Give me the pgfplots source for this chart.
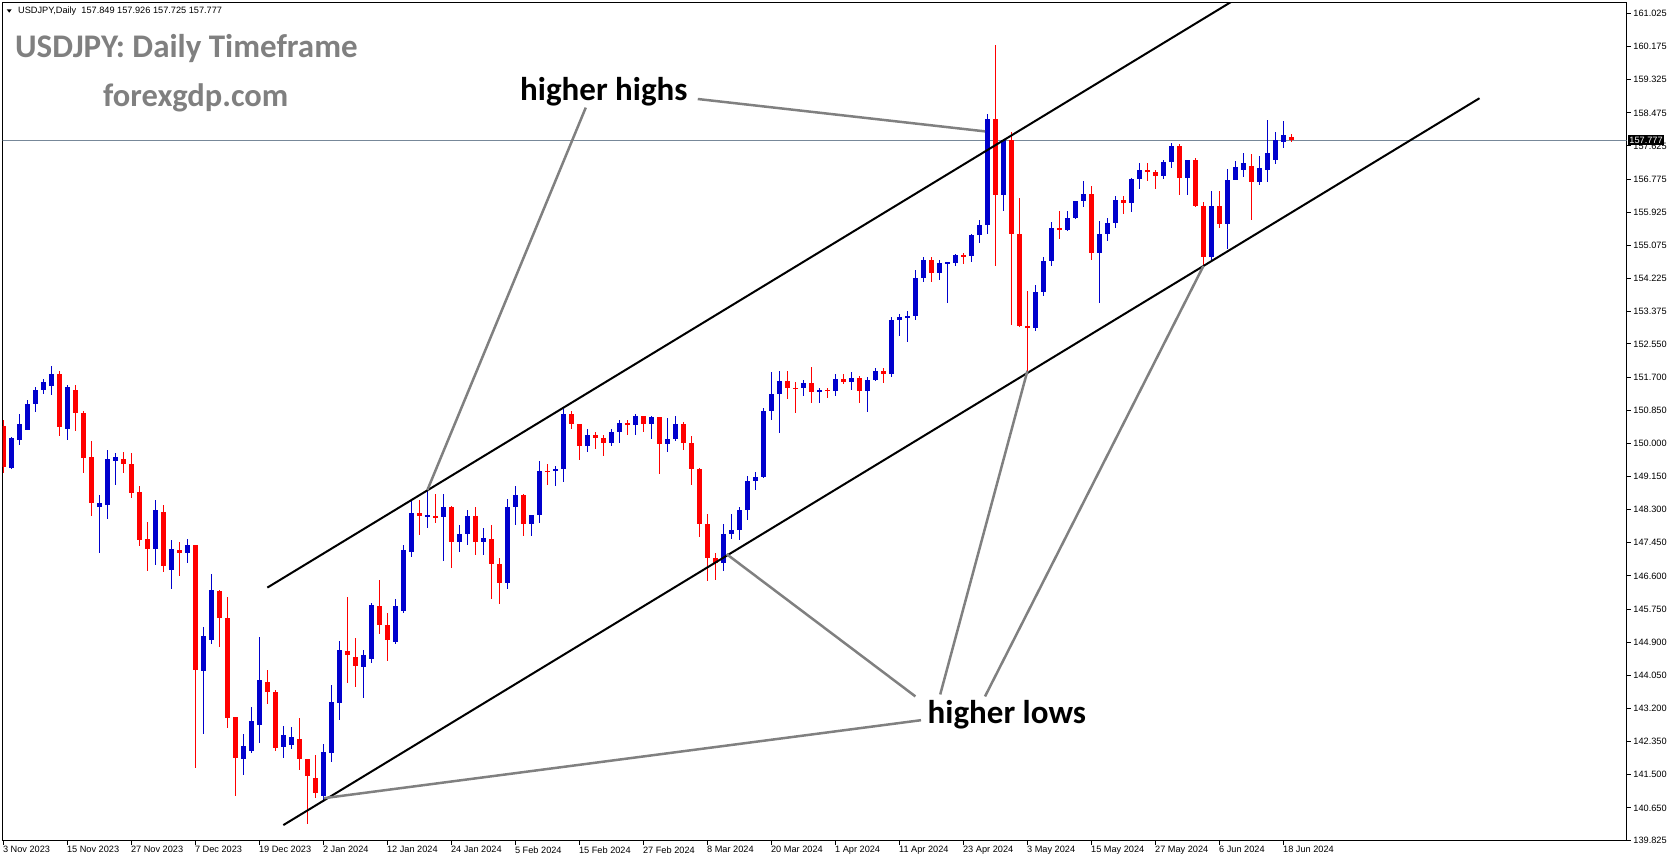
\documentclass[border=0pt]{standalone}
\usepackage{pgfplots}
\pgfplotsset{compat=1.18}
\usepackage{pgfplotstable}
\usepackage{fontspec}
\setmainfont{Liberation Sans}
\newfontfamily\carl{Carlito}
\definecolor{bull}{RGB}{0,0,205}
\definecolor{bear}{RGB}{255,0,0}
\definecolor{wm}{RGB}{128,128,128}
\definecolor{pline}{RGB}{119,136,153}
\definecolor{ann}{RGB}{128,128,128}

\pgfplotstableread{
i O H L C
0 150.44 150.60 149.25 149.40
1 149.38 150.15 149.35 150.13
2 150.08 150.75 149.96 150.49
3 150.34 151.11 150.34 151.02
4 151.01 151.45 150.81 151.38
5 151.37 151.66 151.26 151.58
6 151.48 151.98 151.24 151.78
7 151.78 151.85 150.19 150.43
8 150.38 151.49 150.08 151.44
9 151.37 151.49 150.32 150.79
10 150.79 150.83 149.25 149.63
11 149.66 150.06 148.14 148.46
12 148.38 148.67 147.20 148.48
13 148.43 149.83 148.06 149.60
14 149.55 149.74 148.93 149.65
15 149.60 149.78 149.23 149.47
16 149.47 149.74 148.60 148.72
17 148.74 148.91 147.37 147.52
18 147.54 147.98 146.73 147.29
19 147.29 148.56 146.88 148.29
20 148.25 148.42 146.70 146.85
21 146.75 147.52 146.26 147.29
22 147.26 147.48 146.60 147.20
23 147.20 147.56 146.94 147.39
24 147.39 147.39 141.68 144.19
25 144.17 145.30 142.55 145.06
26 144.96 146.64 144.85 146.24
27 146.21 146.24 144.79 145.53
28 145.51 146.07 142.71 142.96
29 142.97 142.97 140.95 141.94
30 141.91 142.55 141.49 142.24
31 142.11 143.25 142.07 142.88
32 142.78 145.04 142.32 143.93
33 143.89 144.19 143.32 143.63
34 143.63 143.67 142.12 142.20
35 142.20 142.75 141.94 142.52
36 142.26 142.73 142.16 142.48
37 142.41 142.95 141.62 141.91
38 141.91 141.91 140.25 141.48
39 141.41 142.00 140.90 141.03
40 140.95 142.28 140.80 142.09
41 142.05 143.80 141.84 143.38
42 143.35 144.93 142.91 144.70
43 144.67 146.07 143.86 144.57
44 144.53 145.00 143.74 144.29
45 144.27 144.70 143.48 144.57
46 144.47 145.90 144.38 145.85
47 145.83 146.50 145.11 145.34
48 145.34 145.64 144.42 144.96
49 144.91 146.00 144.85 145.83
50 145.70 147.39 145.66 147.26
51 147.22 148.55 147.09 148.22
52 148.22 148.55 147.65 148.14
53 148.14 148.80 147.82 148.14
54 148.13 148.70 147.97 148.10
55 148.12 148.70 146.97 148.36
56 148.36 148.39 146.80 147.47
57 147.47 147.91 147.22 147.67
58 147.67 148.28 147.39 148.13
59 148.13 148.36 147.15 147.46
60 147.46 147.83 147.14 147.56
61 147.56 147.90 146.00 146.90
62 146.90 147.05 145.89 146.42
63 146.42 148.58 146.26 148.38
64 148.38 148.90 147.90 148.68
65 148.68 148.70 147.62 147.93
66 147.93 148.17 147.63 148.16
67 148.16 149.55 147.95 149.30
68 149.30 149.48 148.94 149.28
69 149.28 149.41 148.90 149.34
70 149.34 150.88 149.00 150.76
71 150.76 150.82 150.36 150.50
72 150.50 150.50 149.57 149.93
73 149.93 150.38 149.78 150.22
74 150.22 150.28 149.85 150.14
75 150.14 150.21 149.68 150.00
76 150.00 150.38 149.92 150.29
77 150.29 150.59 150.00 150.52
78 150.52 150.61 150.22 150.48
79 150.48 150.76 150.22 150.70
80 150.70 150.71 150.28 150.49
81 150.49 150.69 150.12 150.68
82 150.68 150.68 149.21 149.98
83 149.98 150.66 149.79 150.10
84 150.10 150.69 150.07 150.50
85 150.50 150.55 149.84 150.00
86 150.00 150.19 148.94 149.35
87 149.35 149.37 147.59 147.92
88 147.92 148.20 146.48 147.06
89 147.06 147.20 146.49 146.92
90 146.92 147.93 146.72 147.68
91 147.68 148.19 147.55 147.77
92 147.77 148.36 147.51 148.30
93 148.30 149.16 148.03 149.04
94 149.04 149.27 148.80 149.14
95 149.14 150.91 149.11 150.84
96 150.84 151.82 150.60 151.26
97 151.26 151.86 150.26 151.60
98 151.60 151.86 151.13 151.43
99 151.43 151.58 150.79 151.41
100 151.41 151.63 151.22 151.55
101 151.55 151.97 151.03 151.32
102 151.32 151.42 151.03 151.36
103 151.36 151.43 151.17 151.35
104 151.35 151.77 151.22 151.65
105 151.65 151.78 151.53 151.57
106 151.57 151.82 151.37 151.67
107 151.67 151.74 151.03 151.34
108 151.34 151.71 150.81 151.62
109 151.62 151.94 151.60 151.85
110 151.85 151.94 151.55 151.77
111 151.77 153.24 151.71 153.16
112 153.16 153.32 152.76 153.24
113 153.24 153.39 152.59 153.26
114 153.26 154.45 153.15 154.23
115 154.23 154.79 154.14 154.69
116 154.69 154.78 154.13 154.36
117 154.36 154.71 154.19 154.63
118 154.63 154.65 153.59 154.63
119 154.63 154.86 154.54 154.82
120 154.82 154.88 154.59 154.80
121 154.80 155.37 154.66 155.35
122 155.35 155.74 155.13 155.60
123 155.60 158.44 155.37 158.33
124 158.33 160.21 154.54 156.36
125 156.36 157.80 155.95 157.79
126 157.79 157.99 153.04 155.36
127 155.36 156.28 152.99 153.02
128 153.02 153.90 151.86 152.97
129 152.97 154.05 152.87 153.89
130 153.89 154.78 153.77 154.67
131 154.67 155.67 154.55 155.53
132 155.53 155.95 155.23 155.46
133 155.46 155.95 155.45 155.78
134 155.78 156.22 155.75 156.21
135 156.21 156.74 156.07 156.40
136 156.40 156.60 154.69 154.89
137 154.89 155.70 153.60 155.38
138 155.38 155.79 155.20 155.64
139 155.64 156.34 155.53 156.25
140 156.25 156.35 155.87 156.17
141 156.17 156.80 155.93 156.78
142 156.78 157.19 156.52 157.00
143 157.00 157.19 156.74 156.96
144 156.96 157.01 156.51 156.85
145 156.85 157.27 156.79 157.21
146 157.21 157.71 157.07 157.62
147 157.62 157.69 156.38 156.81
148 156.81 157.25 156.38 157.27
149 157.27 157.31 156.05 156.09
150 156.09 156.20 154.55 154.79
151 154.79 156.47 154.71 156.10
152 156.10 156.48 155.52 155.63
153 155.63 157.04 154.99 156.75
154 156.75 157.24 156.75 157.09
155 157.00 157.45 156.84 157.19
156 157.12 157.42 155.72 156.70
157 156.70 157.37 156.63 157.07
158 157.01 158.29 156.70 157.45
159 157.26 157.99 157.16 157.78
160 157.73 158.27 157.58 157.91
161 157.849 157.926 157.725 157.777
}\candles

\begin{document}
\begin{tikzpicture}[x=1pt,y=1pt]
\path[use as bounding box] (0pt,0pt) rectangle (1673pt,861pt);
\begin{axis}[
  at={(2.7pt,20.3pt)}, anchor=south west,
  width=1624pt, height=838pt, scale only axis,
  xmin=-0.075, xmax=202.9, ymin=139.81, ymax=161.30,
  axis line style={line width=1pt, black},
  xtick={0,8,...,160},
  xticklabels={3 Nov 2023,15 Nov 2023,27 Nov 2023,7 Dec 2023,19 Dec 2023,2 Jan 2024,12 Jan 2024,24 Jan 2024,5 Feb 2024,15 Feb 2024,27 Feb 2024,8 Mar 2024,20 Mar 2024,1 Apr 2024,11 Apr 2024,23 Apr 2024,3 May 2024,15 May 2024,27 May 2024,6 Jun 2024,18 Jun 2024},
  ytick={161.025,160.175,159.325,158.475,157.625,156.775,155.925,155.075,154.225,153.375,152.550,151.700,150.850,150.000,149.150,148.300,147.450,146.600,145.750,144.900,144.050,143.200,142.350,141.500,140.650,139.825},
  yticklabels={161.025,160.175,159.325,158.475,157.625,156.775,155.925,155.075,154.225,153.375,152.550,151.700,150.850,150.000,149.150,148.300,147.450,146.600,145.750,144.900,144.050,143.200,142.350,141.500,140.650,139.825},
  xtick pos=bottom, ytick pos=right, yticklabel pos=right,
  tick align=outside, major tick length=4pt,
  tick style={black, line width=1pt},
  tick label style={font=\fontsize{9.2}{10}\selectfont},
  xticklabel style={anchor=north west, inner sep=0pt, xshift=-0.5pt, yshift=-1.5pt},
  yticklabel style={anchor=west, inner sep=0pt, xshift=2.5pt},
  clip=true,
]
% current price line
\addplot[pline, line width=1pt] coordinates {(-1,157.777) (210,157.777)};
% bull wicks and bodies
\addplot[draw=none, mark=none, x filter/.expression={\thisrow{C}>=\thisrow{O} ? x : nan},
  error bars/.cd, y dir=both, y explicit, error mark=none,
  error bar style={draw=bull, line width=1pt}]
  table[x=i, y expr={(\thisrow{H}+\thisrow{L})/2}, y error expr={(\thisrow{H}-\thisrow{L})/2}] {\candles};
\addplot[draw=none, mark=none, x filter/.expression={\thisrow{C}>=\thisrow{O} ? x : nan},
  error bars/.cd, y dir=both, y explicit, error mark=none,
  error bar style={draw=bull, line width=5pt}]
  table[x=i, y expr={(\thisrow{O}+\thisrow{C})/2}, y error expr={max(abs(\thisrow{C}-\thisrow{O})/2,0.0128)}] {\candles};
% bear wicks and bodies
\addplot[draw=none, mark=none, x filter/.expression={\thisrow{C}<\thisrow{O} ? x : nan},
  error bars/.cd, y dir=both, y explicit, error mark=none,
  error bar style={draw=bear, line width=1pt}]
  table[x=i, y expr={(\thisrow{H}+\thisrow{L})/2}, y error expr={(\thisrow{H}-\thisrow{L})/2}] {\candles};
\addplot[draw=none, mark=none, x filter/.expression={\thisrow{C}<\thisrow{O} ? x : nan},
  error bars/.cd, y dir=both, y explicit, error mark=none,
  error bar style={draw=bear, line width=5pt}]
  table[x=i, y expr={(\thisrow{O}+\thisrow{C})/2}, y error expr={max(abs(\thisrow{C}-\thisrow{O})/2,0.0128)}] {\candles};
% channel lines
\draw[black, line width=2pt] (axis cs:35.0,140.21) -- (axis cs:184.5,158.85);
\draw[black, line width=2pt] (axis cs:33.0,146.30) -- (axis cs:184.5,165.19);
% annotation pointers
\draw[ann, line width=2.5pt] (axis cs:72.8,158.61) -- (axis cs:53.0,148.80);
\draw[ann, line width=2.5pt] (axis cs:86.8,158.83) -- (axis cs:122.7,158.0);
\draw[ann, line width=2.5pt] (axis cs:114.7,142.90) -- (axis cs:40.05,140.90);
\draw[ann, line width=2.5pt] (axis cs:114.0,143.51) -- (axis cs:90.4,147.16);
\draw[ann, line width=2.5pt] (axis cs:117.1,143.56) -- (axis cs:128.0,151.86);
\draw[ann, line width=2.5pt] (axis cs:122.7,143.51) -- (axis cs:150.0,154.55);
\coordinate (pl) at (axis cs:202.9,157.777);
\end{axis}
% price label
\node[fill=black, text=white, anchor=west, inner xsep=1.5pt, inner ysep=1.5pt,
  font=\fontsize{9.2}{10}\selectfont, xshift=1pt] at (pl) {157.777};
% header
\fill[black] (6.7,851.7) -- (11.7,851.7) -- (9.2,848.3) -- cycle;
\node[anchor=west, inner sep=0pt, font=\fontsize{9.2}{10}\selectfont] at (18,850) {USDJPY,Daily\ \ 157.849 157.926 157.725 157.777};
\node[anchor=base west, inner sep=0pt, text=wm, font=\carl\bfseries\fontsize{33}{36}\selectfont] at (15,803) {USDJPY: Daily Timeframe};
\node[anchor=base west, inner sep=0pt, text=wm, font=\carl\bfseries\fontsize{32.5}{36}\selectfont] at (103,754) {forexgdp.com};
\node[anchor=west, inner sep=0pt, font=\carl\bfseries\fontsize{33}{36}\selectfont] at (520,769.5) {higher highs};
\node[anchor=west, inner sep=0pt, font=\carl\bfseries\fontsize{33}{36}\selectfont] at (927.5,146.2) {higher lows};
\end{tikzpicture}
\end{document}
